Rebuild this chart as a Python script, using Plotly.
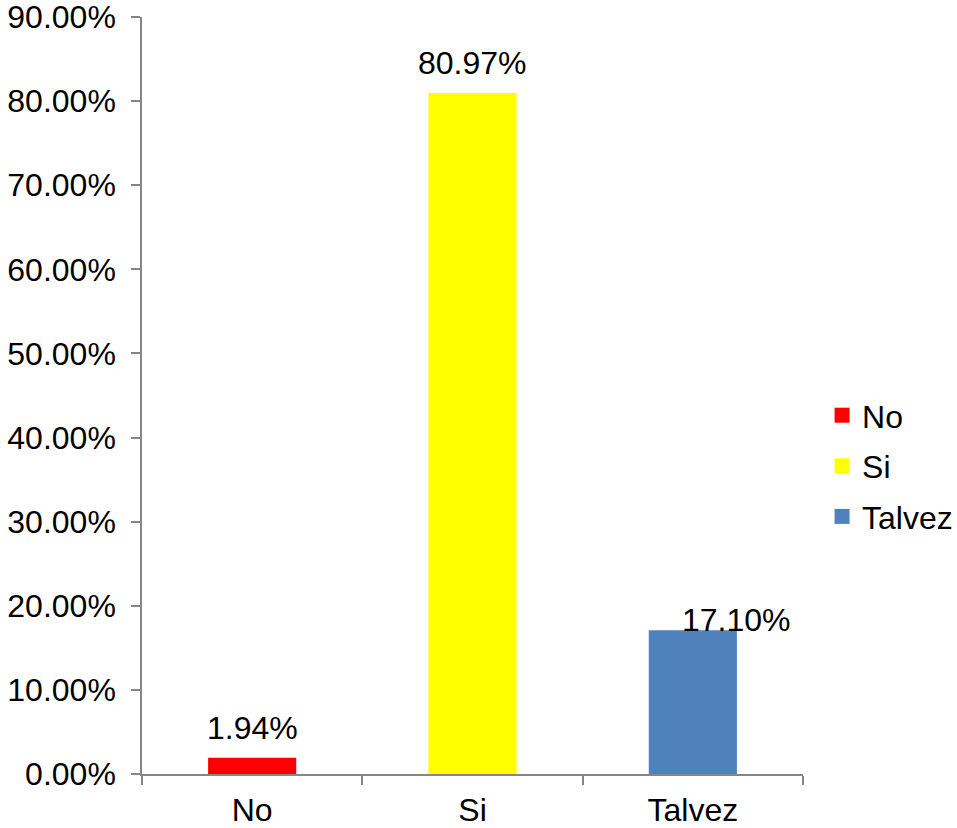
import plotly.graph_objects as go

categories = ["No", "Si", "Talvez"]
values = [1.94, 80.97, 17.10]  # percent
colors = ["#FF0000", "#FFFF00", "#4F81BD"]
y_ticks = [0, 10, 20, 30, 40, 50, 60, 70, 80, 90]
y_tick_labels = [f"{v:.2f}%" for v in y_ticks]

FONT = "Liberation Sans, Arial, sans-serif"
AXIS_GRAY = "#868686"

fig = go.Figure()
for cat, val, col in zip(categories, values, colors):
    fig.add_trace(go.Bar(
        x=[cat], y=[val], name=cat,
        marker=dict(color=col, line=dict(width=0)),
        width=0.4, showlegend=False,
    ))

# legend entries with square swatches
for i, (cat, col) in enumerate(zip(categories, colors)):
    fig.add_trace(go.Scatter(
        x=[None], y=[None], mode="markers", name=cat,
        marker=dict(symbol="square", size=15, color=col),
        legendgroup=f"g{i}", showlegend=True,
    ))

# value labels above each bar
label_shift = {"No": (0, 10), "Si": (0, 10), "Talvez": (44, -10)}
for cat, val in zip(categories, values):
    dx, dy = label_shift[cat]
    fig.add_annotation(
        x=cat, y=val, text=f"{val:.2f}%", showarrow=False,
        xanchor="center", yanchor="bottom", xshift=dx, yshift=dy,
        font=dict(family=FONT, size=32, color="black"),
    )

fig.update_layout(
    width=957, height=828,
    margin=dict(l=142, r=154, t=17, b=54, autoexpand=False),
    paper_bgcolor="white", plot_bgcolor="white",
    barmode="overlay",
    font=dict(family=FONT, size=32, color="black"),
    showlegend=True,
    legend=dict(
        xref="container", x=0.859, xanchor="left",
        y=0.407, yanchor="middle",
        tracegroupgap=6, itemsizing="trace",
        font=dict(family=FONT, size=32, color="black"),
        bgcolor="rgba(0,0,0,0)",
    ),
    xaxis=dict(
        type="category", categoryorder="array", categoryarray=categories,
        range=[-0.5, 2.5], automargin=False,
        showline=True, linecolor=AXIS_GRAY, linewidth=1.5,
        ticks="outside", tickson="boundaries", ticklen=9,
        tickcolor=AXIS_GRAY, tickwidth=1.5,
        showgrid=False, zeroline=False,
        ticklabelstandoff=7, ticklabeloverflow="allow",
        tickfont=dict(family=FONT, size=32, color="black"),
    ),
    yaxis=dict(
        range=[0, 90], tickmode="array", tickvals=y_ticks, ticktext=y_tick_labels,
        automargin=False, ticklabeloverflow="allow",
        showline=True, linecolor=AXIS_GRAY, linewidth=1.5,
        ticks="outside", ticklen=9, tickcolor=AXIS_GRAY, tickwidth=1.5,
        showgrid=False, zeroline=False,
        ticklabelstandoff=9,
        tickfont=dict(family=FONT, size=32, color="black"),
    ),
)

fig.write_html("out.html")
